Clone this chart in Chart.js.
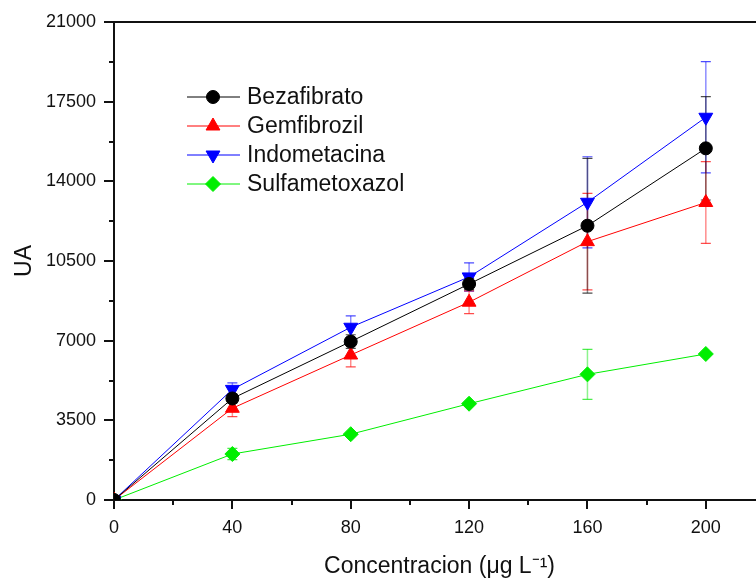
<!DOCTYPE html>
<html lang="es">
<head>
<meta charset="UTF-8" />
<script src="https://cdn.jsdelivr.net/npm/chart.js@4.4.0/dist/chart.umd.min.js"></script>
<style>
  html, body { margin: 0; padding: 0; background: #fff; overflow: hidden; }
  canvas { display: block; }
</style>
</head>
<body>
<canvas id="myChart" width="774" height="581" style="width:774px;height:581px"></canvas>
<script>
// concentrations (ug/L)
const concentracion = [0, 40, 80, 120, 160, 200];

const bezafibrato = [0, 4460, 6960, 9490, 12050, 15450];
const bezafibratoErr = [0, 200, 300, 250, 2960, 2270];

const gemfibrozil = [0, 4030, 6370, 8690, 11350, 13070];
const gemfibrozilErr = [0, 370, 520, 500, 2120, 1800];

const indometacina = [0, 4860, 7590, 9800, 13080, 16815];
const indometacinaErr = [0, 290, 500, 620, 2000, 2440];

const sulfametoxazol = [0, 2020, 2890, 4230, 5520, 6415];
const sulfametoxazolErr = [0, 250, 0, 0, 1100, 0];

const yTickLabels = [0, 3500, 7000, 10500, 14000, 17500, 21000];
const xTickLabels = [0, 40, 80, 120, 160, 200];

const FONT = "'Liberation Sans', Arial, sans-serif";

function pts(ys) {
  return concentracion.map((x, i) => ({ x: x, y: ys[i] }));
}

const series = [
  { label: 'Bezafibrato', data: bezafibrato, err: bezafibratoErr, color: '#000000', rgb: '0,0,0', style: 'circle', radius: 6.5, rot: 0 },
  { label: 'Gemfibrozil', data: gemfibrozil, err: gemfibrozilErr, color: '#ff0000', rgb: '255,0,0', style: 'triangle', radius: 8, rot: 0 },
  { label: 'Indometacina', data: indometacina, err: indometacinaErr, color: '#0000ff', rgb: '0,0,255', style: 'triangle', radius: 8, rot: 180 },
  { label: 'Sulfametoxazol', data: sulfametoxazol, err: sulfametoxazolErr, color: '#00ee00', rgb: '0,230,0', style: 'rectRot', radius: 7.5, rot: 0 }
];

// error bars, drawn under the markers
const errorBars = {
  id: 'errorBars',
  beforeDatasetsDraw(chart) {
    const ctx = chart.ctx;
    const xs = chart.scales.x, ys = chart.scales.y;
    ctx.save();
    for (let d = series.length - 1; d >= 0; d--) {
      const s = series[d];
      s.err.forEach((e, i) => {
        if (!e) return;
        const px = xs.getPixelForValue(concentracion[i]);
        const top = ys.getPixelForValue(s.data[i] + e);
        const bot = ys.getPixelForValue(s.data[i] - e);
        ctx.strokeStyle = 'rgba(' + s.rgb + ',0.45)';
        ctx.lineWidth = 1.5;
        ctx.beginPath();
        ctx.moveTo(px, top);
        ctx.lineTo(px, bot);
        ctx.stroke();
        ctx.strokeStyle = 'rgba(' + s.rgb + ',0.7)';
        ctx.lineWidth = 1.2;
        ctx.beginPath();
        ctx.moveTo(px - 5, top); ctx.lineTo(px + 5, top);
        ctx.moveTo(px - 5, bot); ctx.lineTo(px + 5, bot);
        ctx.stroke();
      });
    }
    ctx.restore();
  }
};

// frame top line, outward major/minor ticks and the legend box
const frameAndLegend = {
  id: 'frameAndLegend',
  afterDraw(chart) {
    const ctx = chart.ctx;
    const a = chart.chartArea;
    const xs = chart.scales.x, ys = chart.scales.y;
    ctx.save();
    ctx.strokeStyle = '#111';
    ctx.lineWidth = 2;
    ctx.beginPath();
    ctx.moveTo(a.left - 1, a.top);
    ctx.lineTo(a.right, a.top);
    ctx.stroke();

    ctx.lineWidth = 2;
    ctx.beginPath();
    for (let v = 0; v <= 220; v += 20) {
      const px = Math.round(xs.getPixelForValue(v));
      const len = v % 40 === 0 ? 9 : 5;
      ctx.moveTo(px, a.bottom);
      ctx.lineTo(px, a.bottom + len);
    }
    for (let v = 0; v <= 21000; v += 1750) {
      const py = Math.round(ys.getPixelForValue(v));
      const len = v % 3500 === 0 ? 10 : 5;
      ctx.moveTo(a.left, py);
      ctx.lineTo(a.left - len, py);
    }
    ctx.stroke();

    // legend
    const lx0 = 187, lx1 = 240, mx = 213, tx = 247;
    const rows = [97, 126, 155, 184];
    ctx.font = '23px ' + FONT;
    ctx.textBaseline = 'middle';
    ctx.textAlign = 'left';
    series.forEach((s, i) => {
      const y = rows[i];
      ctx.strokeStyle = s.color;
      ctx.lineWidth = 1;
      ctx.beginPath();
      ctx.moveTo(lx0, y); ctx.lineTo(lx1, y);
      ctx.stroke();
      ctx.fillStyle = s.color;
      ctx.strokeStyle = s.color;
      Chart.helpers.drawPoint(ctx, { pointStyle: s.style, radius: s.radius, rotation: s.rot, borderWidth: 1 }, mx, y);
      ctx.fillStyle = '#111';
      ctx.fillText(s.label, tx, y + 1);
    });
    ctx.restore();
  }
};

const ctx = document.getElementById('myChart').getContext('2d');
new Chart(ctx, {
  type: 'line',
  data: {
    datasets: series.map(s => ({
      label: s.label,
      data: pts(s.data),
      borderColor: s.color,
      backgroundColor: s.color,
      borderWidth: 1,
      pointStyle: s.style,
      pointRadius: s.radius,
      pointRotation: s.rot,
      pointBorderWidth: 1,
      pointBackgroundColor: s.color,
      pointBorderColor: s.color,
      tension: 0
    }))
  },
  options: {
    responsive: false,
    animation: false,
    devicePixelRatio: 1,
    layout: { padding: { left: 0, top: 22, right: 5, bottom: 0 } },
    plugins: {
      legend: { display: false },
      tooltip: { enabled: false }
    },
    scales: {
      x: {
        type: 'linear',
        min: 0,
        max: 220,
        afterFit: s => { s.height = 81; },
        grid: { display: false },
        border: { display: true, color: '#111', width: 2 },
        ticks: {
          stepSize: 20,
          padding: 9,
          maxRotation: 0,
          autoSkip: false,
          color: '#111',
          font: { family: FONT, size: 18 },
          callback: v => xTickLabels.includes(v) ? String(v) : ''
        },
        title: {
          display: true,
          text: 'Concentracion (μg L⁻¹)',
          color: '#111',
          font: { family: FONT, size: 23 },
          padding: { top: 0, bottom: 1 }
        }
      },
      y: {
        min: 0,
        max: 21000,
        afterFit: s => { s.width = 114; },
        grid: { display: false },
        border: { display: true, color: '#111', width: 2 },
        ticks: {
          stepSize: 1750,
          padding: 10,
          autoSkip: false,
          color: '#111',
          font: { family: FONT, size: 18 },
          callback: v => yTickLabels.includes(v) ? String(v) : ''
        },
        title: {
          display: true,
          text: 'UA',
          color: '#111',
          font: { family: FONT, size: 23 },
          padding: { top: 11, bottom: 0 }
        }
      }
    }
  },
  plugins: [errorBars, frameAndLegend]
});
</script>
</body>
</html>
